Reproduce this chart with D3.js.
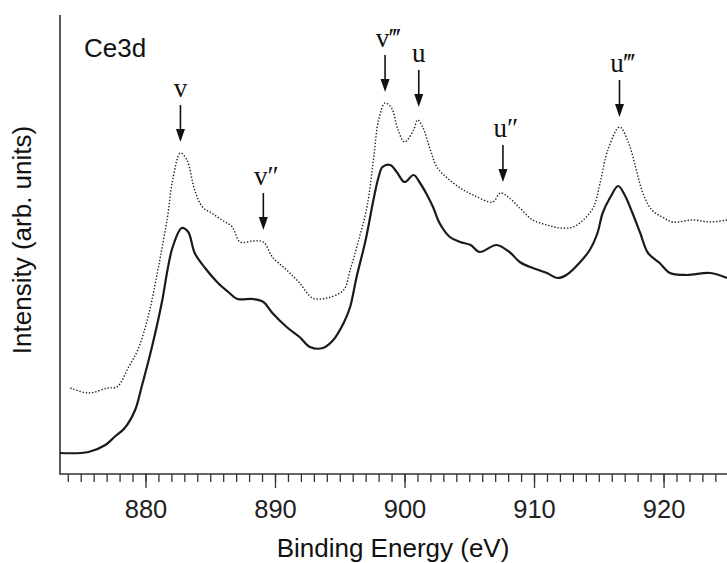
<!DOCTYPE html>
<html>
<head>
<meta charset="utf-8">
<script src="https://cdn.jsdelivr.net/npm/d3@7"></script>
<style>
  body { margin: 0; background: #fff; }
  svg { display: block; }
  .axis path, .axis line { stroke: #333; stroke-width: 1.3; }
  .axis text { font-family: Arial, "Liberation Sans", sans-serif; font-size: 25.5px; fill: #222; }
</style>
</head>
<body>
<div id="viz"></div>
<script>
/* Ce3d XPS spectra (intensity in arb. units) */

// solid spectrum
var solidEnergy = [873.4, 875.6, 876.9, 877.6, 878.4, 879.2, 879.7, 880.5, 881.3, 881.7,
  882.1, 882.8, 883.3, 883.8, 884.6, 885.6, 886.4, 887.1, 888.3, 889.1,
  889.8, 890.9, 891.9, 892.7, 893.7, 894.5, 895.3, 895.8, 896.3, 897.0,
  897.6, 898.0, 898.3, 898.9, 899.4, 900.0, 900.7, 901.2, 901.7, 902.2,
  902.7, 903.5, 904.3, 905.1, 905.8, 907.1, 908.1, 908.9, 909.9, 911.0,
  911.8, 912.5, 913.5, 914.3, 914.9, 915.3, 915.9, 916.5, 917.0, 917.6,
  918.2, 918.8, 919.7, 920.5, 921.8, 923.6, 924.9];
var solidIntensity = [21, 22, 29, 37, 46, 64, 87, 127, 174, 204,
  227, 246, 242, 221, 206, 191, 182, 175, 175, 172,
  161, 147, 137, 127, 126, 134, 151, 167, 197, 234,
  274, 297, 307, 309, 302, 292, 299, 291, 280, 267,
  251, 237, 232, 229, 222, 229, 222, 212, 206, 201,
  196, 199, 211, 224, 241, 261, 277, 288, 279, 261,
  241, 221, 211, 201, 199, 201, 196];

// dotted spectrum
var dotEnergy = [874.2, 875.6, 877.1, 877.8, 878.7, 879.4, 880.2, 881.0, 881.7, 882.1,
  882.7, 883.2, 883.8, 884.4, 885.1, 885.9, 886.7, 887.3, 888.3, 889.1,
  889.8, 890.9, 891.9, 892.9, 894.0, 895.3, 895.8, 896.4, 897.1, 897.6,
  898.0, 898.5, 899.0, 899.5, 900.0, 900.7, 901.0, 901.4, 902.0, 902.5,
  903.3, 904.3, 905.3, 906.8, 907.4, 908.1, 908.9, 909.9, 911.0, 912.0,
  913.0, 913.8, 914.6, 915.1, 915.7, 916.6, 917.3, 917.9, 918.4, 919.1,
  919.9, 920.7, 922.3, 923.6, 924.9];
var dotIntensity = [86, 81, 86, 87, 107, 124, 157, 207, 257, 294,
  321, 314, 284, 267, 261, 254, 247, 232, 233, 232,
  217, 204, 191, 176, 176, 184, 204, 231, 267, 314,
  354, 371, 366, 344, 332, 344, 354, 347, 324, 307,
  296, 286, 279, 272, 281, 276, 266, 254, 249, 246,
  247, 254, 267, 291, 324, 347, 331, 304, 281, 264,
  257, 252, 254, 252, 254];

// peak markers
var peakLabels = ['v', 'v\u2033', 'v\u2034', 'u', 'u\u2033', 'u\u2034'];
var peakEnergy = [882.7, 889.1, 898.5, 901.1, 907.6, 916.6];
var peakTip = [332, 244, 382, 367, 292, 357];

var majorTicks = [880, 890, 900, 910, 920];
var minorTicks = d3.range(874, 925, 1);

var width = 727, height = 563;
var margin = { top: 15, right: 0, bottom: 89, left: 60 };

var svg = d3.select('#viz').append('svg')
    .attr('width', width)
    .attr('height', height);

var xScale = d3.scaleLinear()
    .domain([873.4, 924.9])
    .range([margin.left, width - margin.right]);

var yScale = d3.scaleLinear()
    .domain([0, 459])
    .range([height - margin.bottom, margin.top]);

var base = height - margin.bottom;

// axes
var minorAxis = d3.axisBottom(xScale)
    .tickValues(minorTicks)
    .tickSize(8)
    .tickFormat('');
var majorAxis = d3.axisBottom(xScale)
    .tickValues(majorTicks)
    .tickSize(14)
    .tickPadding(12)
    .tickFormat(d3.format('d'));

svg.append('g').attr('class', 'axis')
    .attr('transform', 'translate(0,' + base + ')')
    .call(minorAxis)
    .select('.domain').remove();
svg.append('g').attr('class', 'axis')
    .attr('transform', 'translate(0,' + base + ')')
    .call(majorAxis)
    .select('.domain').remove();

// frame lines (left and bottom)
svg.append('path')
    .attr('d', 'M' + margin.left + ',' + margin.top + 'V' + base + 'H' + width)
    .attr('fill', 'none')
    .attr('stroke', '#333')
    .attr('stroke-width', 1.6);

// spectra
var line = d3.line()
    .x(function(d) { return xScale(d[0]); })
    .y(function(d) { return yScale(d[1]); })
    .curve(d3.curveCatmullRom.alpha(0.5));

svg.append('path')
    .datum(d3.zip(dotEnergy, dotIntensity))
    .attr('d', line)
    .attr('fill', 'none')
    .attr('stroke', '#222')
    .attr('stroke-width', 1.4)
    .attr('stroke-dasharray', '1.4,1.8');

svg.append('path')
    .datum(d3.zip(solidEnergy, solidIntensity))
    .attr('d', line)
    .attr('fill', 'none')
    .attr('stroke', '#1a1a1a')
    .attr('stroke-width', 2.2)
    .attr('stroke-linejoin', 'round');

// arrows + labels
var peaks = svg.append('g');
peakLabels.forEach(function(lab, i) {
  var x = xScale(peakEnergy[i]),
      tip = yScale(peakTip[i]);
  peaks.append('line')
    .attr('x1', x).attr('x2', x)
    .attr('y1', tip - 37).attr('y2', tip - 10)
    .attr('stroke', '#111')
    .attr('stroke-width', 1.6);
  peaks.append('path')
    .attr('d', 'M' + (x - 4.5) + ',' + (tip - 13) + 'L' + (x + 4.5) + ',' + (tip - 13) + 'L' + x + ',' + tip + 'Z')
    .attr('fill', '#111');
  peaks.append('text')
    .attr('x', x + (lab.length > 1 ? 3 : 0))
    .attr('y', tip - 45)
    .attr('text-anchor', 'middle')
    .style('font-family', '"Liberation Serif", "Times New Roman", serif')
    .style('font-size', '27px')
    .style('fill', '#111')
    .text(lab);
});

// texts
svg.append('text')
    .attr('x', 84).attr('y', 57)
    .style('font-family', 'Arial, "Liberation Sans", sans-serif')
    .style('font-size', '26px')
    .style('fill', '#111')
    .text('Ce3d');

svg.append('text')
    .attr('x', 393).attr('y', 557)
    .attr('text-anchor', 'middle')
    .style('font-family', 'Arial, "Liberation Sans", sans-serif')
    .style('font-size', '26px')
    .style('fill', '#111')
    .text('Binding Energy (eV)');

svg.append('text')
    .attr('transform', 'translate(31,240) rotate(-90)')
    .attr('text-anchor', 'middle')
    .style('font-family', 'Arial, "Liberation Sans", sans-serif')
    .style('font-size', '26px')
    .style('fill', '#111')
    .text('Intensity (arb. units)');
</script>
</body>
</html>
